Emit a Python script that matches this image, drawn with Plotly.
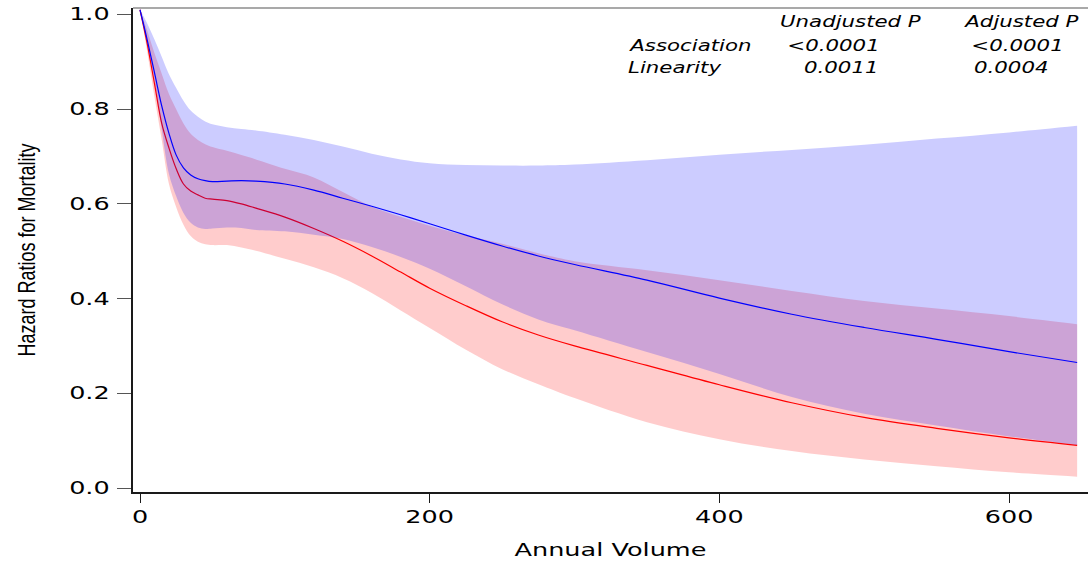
import plotly.graph_objects as go

# Annual hospital volume grid
volume = [0, 5, 10, 15, 20, 25, 30, 35, 40, 45, 50, 60, 70, 80, 100, 120, 140, 160,
          180, 200, 225, 250, 275, 300, 350, 400, 450, 500, 550, 600, 647]

# Unadjusted model: hazard ratio and 95% confidence band
hr_unadj = [1.01, 0.946, 0.877, 0.807, 0.749, 0.703, 0.676, 0.661, 0.653, 0.649, 0.647,
            0.648, 0.649, 0.648, 0.642, 0.629, 0.612, 0.595, 0.577, 0.558, 0.534, 0.511,
            0.490, 0.472, 0.439, 0.401, 0.367, 0.339, 0.314, 0.288, 0.265]
lo_unadj = [1.01, 0.942, 0.860, 0.757, 0.663, 0.616, 0.581, 0.560, 0.550, 0.547, 0.548,
            0.550, 0.549, 0.545, 0.542, 0.535, 0.526, 0.509, 0.488, 0.463, 0.426, 0.388,
            0.356, 0.333, 0.287, 0.241, 0.192, 0.157, 0.132, 0.109, 0.091]
hi_unadj = [1.01, 0.981, 0.947, 0.911, 0.874, 0.845, 0.818, 0.797, 0.784, 0.774, 0.768,
            0.762, 0.758, 0.755, 0.746, 0.735, 0.721, 0.706, 0.694, 0.686, 0.682, 0.681,
            0.681, 0.683, 0.692, 0.704, 0.714, 0.725, 0.738, 0.751, 0.765]

# Adjusted model: hazard ratio and 95% confidence band
hr_adj = [1.01, 0.938, 0.854, 0.770, 0.718, 0.674, 0.642, 0.627, 0.619, 0.612, 0.610,
          0.607, 0.600, 0.591, 0.572, 0.548, 0.521, 0.490, 0.456, 0.422, 0.385, 0.351,
          0.323, 0.300, 0.259, 0.218, 0.180, 0.149, 0.126, 0.106, 0.090]
lo_adj = [1.01, 0.921, 0.826, 0.735, 0.642, 0.593, 0.556, 0.532, 0.520, 0.515, 0.513,
          0.513, 0.508, 0.501, 0.484, 0.466, 0.443, 0.412, 0.375, 0.338, 0.292, 0.251,
          0.219, 0.190, 0.139, 0.103, 0.078, 0.060, 0.046, 0.033, 0.024]
hi_adj = [1.01, 0.966, 0.918, 0.875, 0.832, 0.800, 0.770, 0.748, 0.735, 0.726, 0.720,
          0.712, 0.703, 0.694, 0.674, 0.656, 0.625, 0.594, 0.573, 0.554, 0.533, 0.516,
          0.496, 0.479, 0.460, 0.439, 0.416, 0.395, 0.379, 0.363, 0.346]

x_ticks = [0, 200, 400, 600]
y_ticks = [0.0, 0.2, 0.4, 0.6, 0.8, 1.0]

# P-value table
col_headers = ["Unadjusted P", "Adjusted P"]
row_labels = ["Association", "Linearity"]
p_values = [["<0.0001", "<0.0001"], ["0.0011", "0.0004"]]

RED_FILL = "rgba(255,0,0,0.2)"
BLUE_FILL = "rgba(0,0,255,0.2)"
EDGE = dict(width=0, shape="spline", smoothing=1.0)

fig = go.Figure()

# adjusted band + curve (drawn first, underneath)
fig.add_trace(go.Scatter(x=volume, y=lo_adj, mode="lines", line=EDGE,
                         hoverinfo="skip", showlegend=False))
fig.add_trace(go.Scatter(x=volume, y=hi_adj, mode="lines", line=EDGE,
                         fill="tonexty", fillcolor=RED_FILL, hoverinfo="skip",
                         showlegend=False))
fig.add_trace(go.Scatter(x=volume, y=hr_adj, mode="lines",
                         line=dict(color="#ff0000", width=1.2, shape="spline", smoothing=1.0),
                         showlegend=False))

# unadjusted band + curve
fig.add_trace(go.Scatter(x=volume, y=lo_unadj, mode="lines", line=EDGE,
                         hoverinfo="skip", showlegend=False))
fig.add_trace(go.Scatter(x=volume, y=hi_unadj, mode="lines", line=EDGE,
                         fill="tonexty", fillcolor=BLUE_FILL, hoverinfo="skip",
                         showlegend=False))
fig.add_trace(go.Scatter(x=volume, y=hr_unadj, mode="lines",
                         line=dict(color="#0000ff", width=1.2, shape="spline", smoothing=1.0),
                         showlegend=False))

ann_font = dict(family="DejaVu Sans", size=15, color="black", style="italic")
annotations = []
header_x = [490.8, 608.9]
for hx, txt in zip(header_x, col_headers):
    annotations.append(dict(x=hx, y=0.984, text=txt, xanchor="center", yanchor="middle",
                            showarrow=False, font=ann_font))
row_y = [0.933, 0.887]
label_x = [380.0, 369.4]
value_x = [[479.1, 606.1], [484.6, 602.0]]
for ry, lx, lab, vals, vxs in zip(row_y, label_x, row_labels, p_values, value_x):
    annotations.append(dict(x=lx, y=ry, text=lab, xanchor="center", yanchor="middle",
                            showarrow=False, font=ann_font))
    for vx, v in zip(vxs, vals):
        annotations.append(dict(x=vx, y=ry, text=v, xanchor="center", yanchor="middle",
                                showarrow=False, font=ann_font))

fig.update_layout(
    width=1088, height=568,
    margin=dict(l=133, r=0, t=8, b=76),
    paper_bgcolor="white", plot_bgcolor="white",
    annotations=annotations,
    xaxis=dict(
        range=[-4.83, 654.5], tickvals=x_ticks, ticktext=[str(v) for v in x_ticks],
        showgrid=False, zeroline=False, showline=True, linecolor="#1a1a1a", linewidth=1.5,
        mirror=False, ticks="outside", ticklen=9, tickwidth=1.2, tickcolor="#1a1a1a",
        tickfont=dict(family="DejaVu Sans", size=17, color="black"),
        title=dict(text="Annual Volume", standoff=17,
                   font=dict(family="DejaVu Sans", size=18, color="black")),
    ),
    yaxis=dict(
        range=[-0.00845, 1.0137], tickvals=y_ticks, ticktext=[f"{v:.1f}" for v in y_ticks],
        showgrid=False, zeroline=False, showline=True, linecolor="#1a1a1a", linewidth=1.8,
        mirror=False, ticks="outside", ticklen=14, tickwidth=1.2, tickcolor="#555555",
        ticklabelstandoff=4,
        tickfont=dict(family="DejaVu Sans", size=17, color="black"),
        title=dict(text="Hazard Ratios for Mortality", standoff=44,
                   font=dict(family="Liberation Sans", size=18, color="black")),
    ),
    shapes=[dict(type="line", xref="paper", yref="paper", x0=0, x1=1, y0=1, y1=1,
                 line=dict(color="#555555", width=1.2))],
)

# Widen the lettering horizontally (wide-set typeface look) once the plot is drawn.
stretch_js = """
(function(){
  var gd = document.getElementById('{plot_id}');
  function widen(sel, s, mode){
    gd.querySelectorAll(sel).forEach(function(el){
      var b = el.getBBox();
      var tl = el.transform.baseVal.consolidate();
      var M = tl ? tl.matrix : {a:1,b:0,c:0,d:1,e:0,f:0};
      var pts = [[b.x,b.y],[b.x+b.width,b.y],[b.x,b.y+b.height],[b.x+b.width,b.y+b.height]];
      var xs = pts.map(function(p){ return M.a*p[0]+M.c*p[1]+M.e; });
      var lo = Math.min.apply(null, xs), hi = Math.max.apply(null, xs);
      var ax = mode === 'right' ? hi : (lo + hi) / 2;
      var old = el.getAttribute('transform') || '';
      el.setAttribute('transform',
        'translate(' + ax + ',0) scale(' + s + ',1) translate(' + (-ax) + ',0) ' + old);
    });
  }
  widen('.xtick text', 1.5, 'center');
  widen('.ytick text', 1.5, 'right');
  widen('.annotation-text', 1.42, 'center');
  widen('.xtitle', 1.42, 'center');
  widen('.ytitle', 1.35, 'center');
})();
"""

fig.write_html("out.html", post_script=stretch_js)
